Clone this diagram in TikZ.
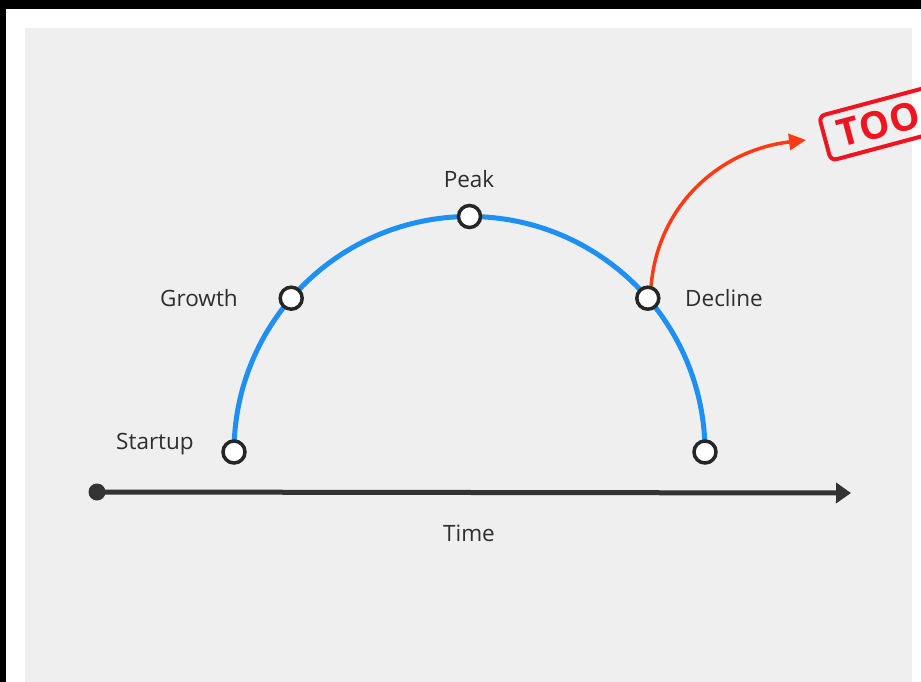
\documentclass[tikz,border=0pt]{standalone}
\usepackage{fontspec}
\setmainfont{Open Sans}
\newfontfamily\stampfont[LetterSpace=3]{Open Sans}
\usetikzlibrary{arrows.meta}
\definecolor{bg}{HTML}{EFEFEF}
\definecolor{arcblue}{HTML}{1E8FF5}
\definecolor{axiscol}{HTML}{333333}
\definecolor{txt}{HTML}{2E2E2E}
\definecolor{arrred}{HTML}{FF3A14}
\definecolor{stampred}{HTML}{EE1420}
\begin{document}
\begin{tikzpicture}[x=1pt,y=-1pt,
  stage/.style={circle, draw=black!85, fill=white, line width=3.5pt, minimum size=22pt, inner sep=0pt},
  lbl/.style={text=txt, font=\fontsize{22.5}{26}\selectfont, inner sep=0pt, anchor=base},
  axisdot/.style={circle, fill=axiscol, minimum size=17pt, inner sep=0pt},
  stamp/.style={draw=stampred, text=stampred, line width=4pt, rounded corners=6pt,
    font=\stampfont\fontsize{38}{39}\selectfont\bfseries, minimum height=46pt, text width=150pt,
    align=left, inner xsep=14pt, inner ysep=3pt, anchor=west}]
\useasboundingbox (0,0) rectangle (921,682);
\clip (0,0) rectangle (921,682);
\fill[white] (0,0) rectangle (921,682);
\fill[black] (0,0) rectangle (921,9);
\fill[black] (0,0) rectangle (6,682);
\fill[bg] (25,28) rectangle (912,690);

% arc
\coordinate (s0) at (234,452);
\draw[arcblue, line width=5pt] (s0) arc[start angle=-180, end angle=0, radius=235.5];

% stages
\node[stage] (start) at (234,452) {};
\node[stage] (grow) at (291.2,298.2) {};
\node[stage] (peak) at (469.5,216.5) {};
\node[stage] (decl) at (647.8,298.2) {};
\node[stage] (fin) at (705,452) {};

% labels
\node[lbl] (lpeak) at (469,187) {Peak};
\node[lbl] (lgrow) at (199,306) {Growth};
\node[lbl] (ldecl) at (724,306) {Decline};
\node[lbl] (lstart) at (155,449) {Startup};
\node[lbl] (ltime) at (469,541) {Time};

% time axis
\node[axisdot] (t0) at (97,492) {};
\coordinate (t1) at (851,493);
\draw[axiscol, line width=5pt, -{Triangle[length=15pt,width=20pt]}] (t0.center) -- (t1);

% stamp
\node[stamp, rotate=15] (late) at (823,139) {TOO};

% red arrow
\coordinate (rtip) at (806,140);
\draw[arrred, line width=3.5pt, -{Triangle[length=17pt,width=16pt]}] (decl.75) .. controls (658,205) and (720,150) .. (rtip);
\end{tikzpicture}
\end{document}
